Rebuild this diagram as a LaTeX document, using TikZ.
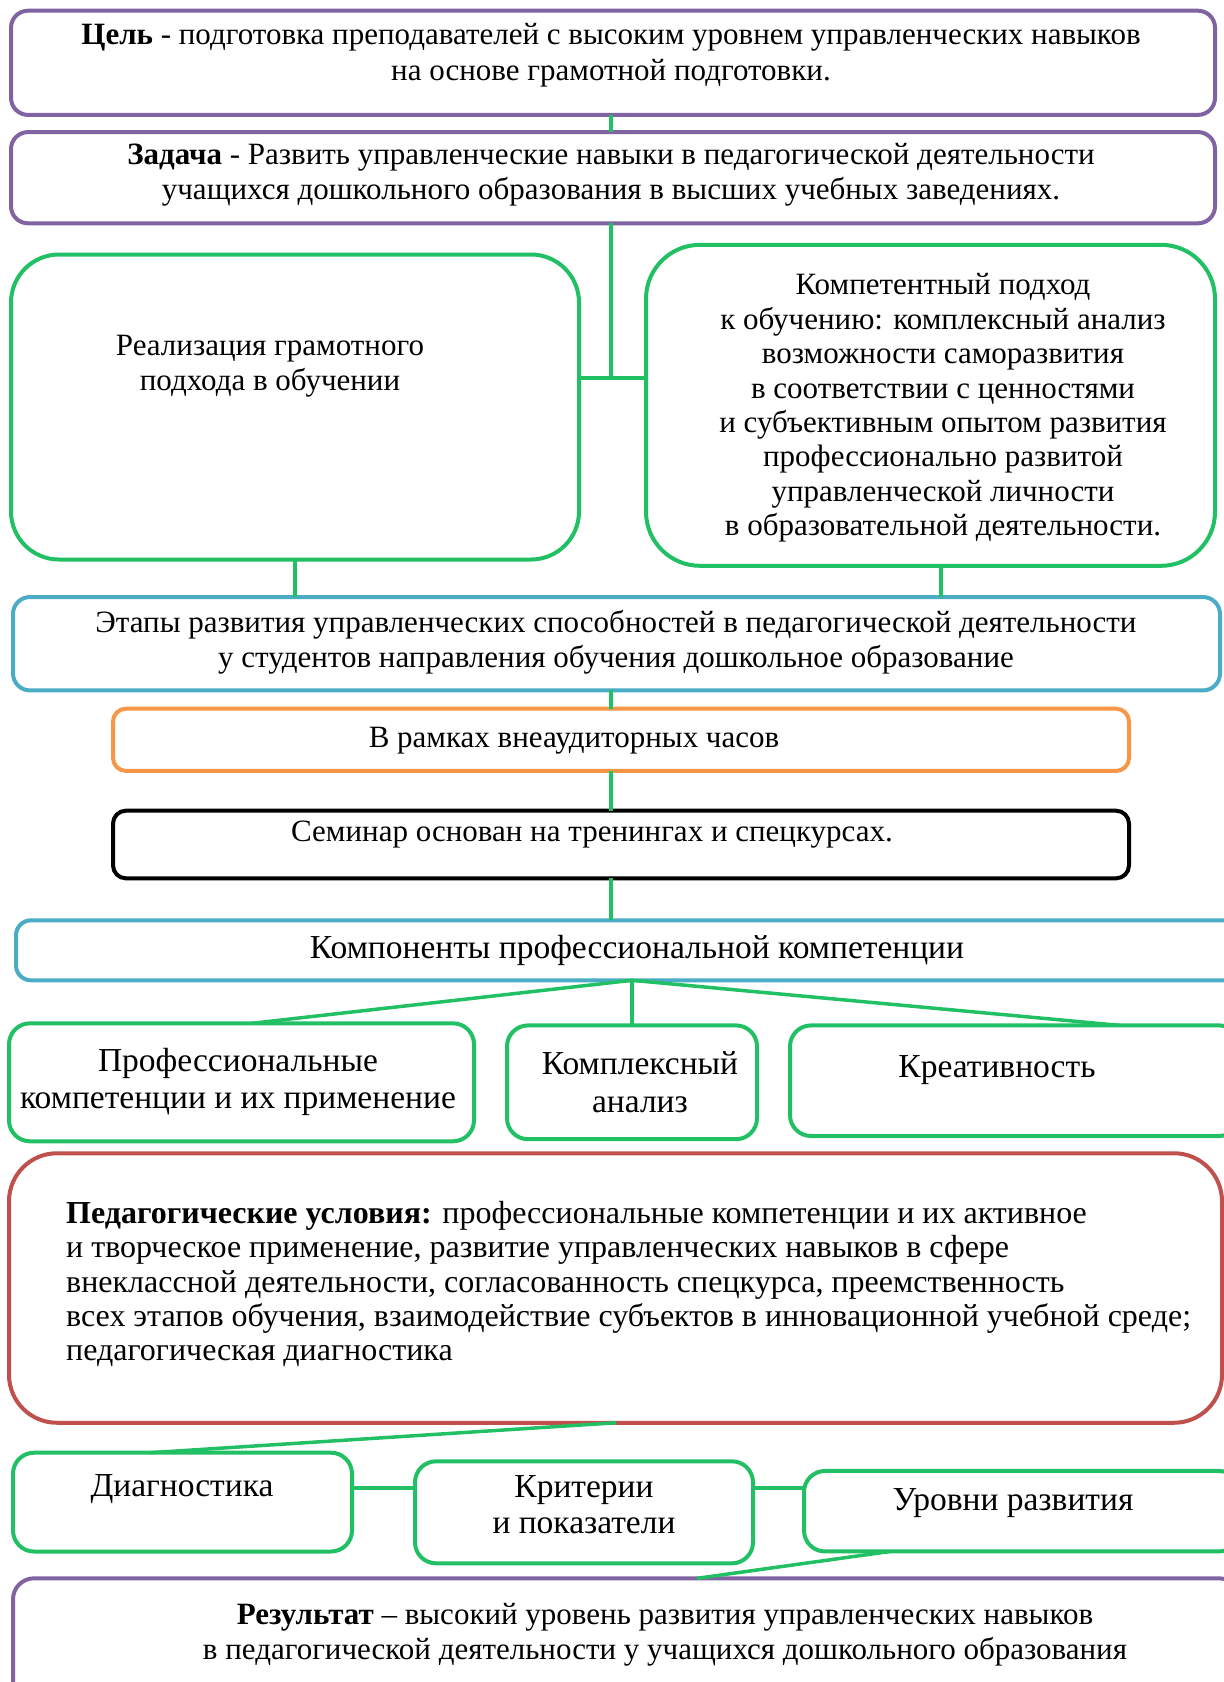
\documentclass[tikz,border=0pt]{standalone}
\usepackage{fontspec}
\setmainfont{Liberation Serif}
\definecolor{purp}{HTML}{8064A2}
\definecolor{grn}{HTML}{22C064}
\definecolor{blu}{HTML}{4BACC6}
\definecolor{org}{HTML}{F79646}
\definecolor{redc}{HTML}{C0504D}
\tikzset{
  box/.style={draw=#1, line width=4pt, rectangle, inner sep=0pt, outer sep=0pt},
  txt/.style={align=center, inner sep=0pt, font=\fontsize{31}{35.4}\selectfont},
  bigtxt/.style={align=center, inner sep=0pt, font=\fontsize{33.5}{37.6}\selectfont},
  conn/.style={draw=grn, line width=3.5pt}
}
\begin{document}
\begin{tikzpicture}[x=1pt,y=-1pt]
\clip (0,0) rectangle (1224,1682);
\fill[white] (0,0) rectangle (1224,1682);
% boxes
\node[box=purp, rounded corners=17pt, minimum width=1204pt, minimum height=104.2pt] (cel) at (613,62.8) {};
\node[box=purp, rounded corners=17pt, minimum width=1204pt, minimum height=91.2pt] (zad) at (613,177.7) {};
\node[box=grn, rounded corners=48pt, minimum width=568pt, minimum height=305pt] (real) at (295,407) {};
\node[box=grn, rounded corners=54pt, minimum width=569pt, minimum height=321pt] (komp) at (930.5,405.3) {};
\node[box=blu, rounded corners=17pt, minimum width=1207pt, minimum height=93.4pt] (etap) at (616.5,643.7) {};
\node[box=org, rounded corners=13pt, minimum width=1016pt, minimum height=62.3pt] (vram) at (621,739.8) {};
\node[box=black, rounded corners=13pt, minimum width=1016pt, minimum height=67.7pt] (sem) at (621,844.5) {};
\node[box=blu, rounded corners=15pt, minimum width=1224pt, minimum height=60pt] (kcomp) at (628,950.3) {};
\node[box=grn, rounded corners=21pt, minimum width=465pt, minimum height=118pt] (prof) at (241.5,1082.3) {};
\node[box=grn, rounded corners=21pt, minimum width=250pt, minimum height=113.8pt] (kan) at (632,1082.3) {};
\node[box=grn, rounded corners=21pt, minimum width=450pt, minimum height=110.6pt] (kreat) at (1015,1080.7) {};
\node[box=redc, rounded corners=48pt, minimum width=1213pt, minimum height=269.5pt] (ped) at (615.5,1288) {};
\node[box=grn, rounded corners=21pt, minimum width=339pt, minimum height=98.8pt] (diag) at (182.5,1502.1) {};
\node[box=grn, rounded corners=21pt, minimum width=338pt, minimum height=102pt] (krit) at (584,1512.3) {};
\node[box=grn, rounded corners=21pt, minimum width=436pt, minimum height=80.5pt] (urov) at (1022,1511.2) {};
\node[box=purp, rounded corners=21pt, minimum width=1227pt, minimum height=141.7pt, anchor=north] (rez) at (626.5,1578.3) {};
% texts
\node[txt] (tcel) at (611,55.3) {\textbf{Цель} - подготовка преподавателей с высоким уровнем управленческих навыков\\ на основе грамотной подготовки.};
\node[txt] (tzad) at (611,175) {\textbf{Задача} - Развить управленческие навыки в педагогической деятельности\\ учащихся дошкольного образования в высших учебных заведениях.};
\node[txt] (treal) at (270,366) {Реализация грамотного\\ подхода в обучении};
\node[txt, font=\fontsize{31}{34.4}\selectfont] (tkomp) at (943,408) {Компетентный подход\\ к обучению: комплексный анализ\\ возможности саморазвития\\ в соответствии с ценностями\\ и субъективным опытом развития\\ профессионально развитой\\ управленческой личности\\ в образовательной деятельности.};
\node[txt, font=\fontsize{31}{34.8}\selectfont] (tetap) at (616,642) {Этапы развития управленческих способностей в педагогической деятельности\\ у студентов направления обучения дошкольное образование};
\node[txt] (tvram) at (574,740.9) {В рамках внеаудиторных часов};
\node[txt] (tsem) at (592,834.3) {Семинар основан на тренингах и спецкурсах.};
\node[bigtxt] (tkcomp) at (637,950.2) {Компоненты профессиональной компетенции};
\node[bigtxt] (tprof) at (238,1082) {Профессиональные\\ компетенции и их применение};
\node[bigtxt] (tkan) at (640,1082) {Комплексный\\ анализ};
\node[bigtxt] (tkreat) at (997,1070.5) {Креативность};
\node[txt, font=\fontsize{32}{34.4}\selectfont, align=left, anchor=west] (tped) at (66,1284) {\textbf{Педагогические условия:} профессиональные компетенции и их активное\\ и творческое применение, развитие управленческих навыков в сфере\\ внеклассной деятельности, согласованность спецкурса, преемственность\\ всех этапов обучения, взаимодействие субъектов в инновационной учебной среде;\\ педагогическая диагностика};
\node[bigtxt] (tdiag) at (182,1489.2) {Диагностика};
\node[bigtxt, font=\fontsize{33.5}{35.4}\selectfont] (tkrit) at (584,1504.8) {Критерии\\ и показатели};
\node[bigtxt] (turov) at (1013,1503.2) {Уровни развития};
\node[txt] (trez) at (665,1635) {\textbf{Результат} – высокий уровень развития управленческих навыков\\ в педагогической деятельности у учащихся дошкольного образования};
% connectors
\coordinate (col) at (611,0);
\coordinate (jx) at (611,377.9);
\coordinate (k1) at (941,0);
\coordinate (kj) at (632,980.3);
\draw[conn] (cel.south -| col) -- (zad.north -| col);
\draw[conn] (zad.south -| col) -- (jx);
\draw[conn] (jx -| real.east) -- (jx -| komp.west);
\draw[conn] (real.south) -- (etap.north -| real.south);
\draw[conn] (komp.south -| k1) -- (etap.north -| k1);
\draw[conn] (etap.south -| col) -- (vram.north -| col);
\draw[conn] (vram.south -| col) -- (sem.north -| col);
\draw[conn] (sem.south -| col) -- (kcomp.north -| col);
\draw[conn] (kj) -- (prof.north -| 252,0);
\draw[conn] (kj) -- (kan.north -| kj);
\draw[conn] (kj) -- (kreat.north -| 1120,0);
\draw[conn] (ped.south -| 616,0) -- (diag.north -| 150,0);
\draw[conn] (diag.east |- 0,1488) -- (krit.west |- 0,1488);
\draw[conn] (krit.east |- 0,1488) -- (urov.west |- 0,1488);
\draw[conn] (urov.south -| 890,0) -- (rez.north -| 697,0);
\end{tikzpicture}
\end{document}
